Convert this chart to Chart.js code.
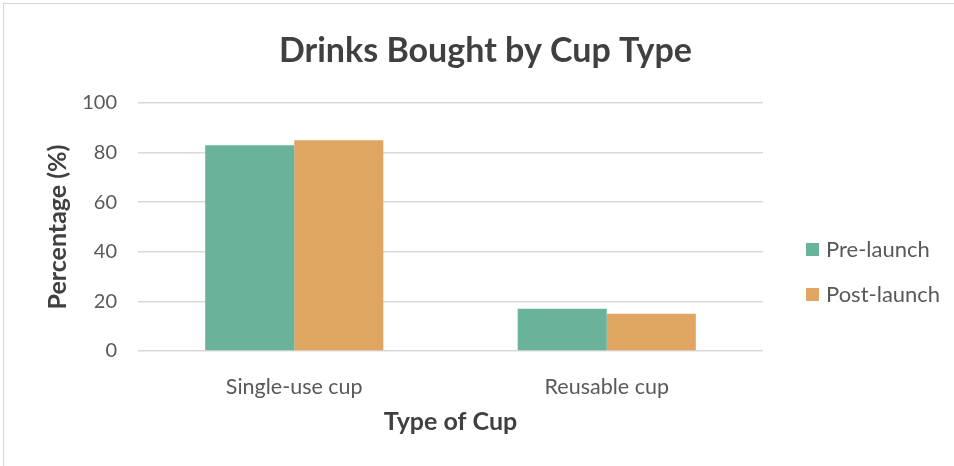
<!DOCTYPE html>
<html>
<head>
<meta charset="utf-8">
<script src="https://cdn.jsdelivr.net/npm/chart.js@4.4.1/dist/chart.umd.min.js"></script>
<style>
  body { margin: 0; background: #fff; }
  #wrap { position: relative; width: 954px; height: 466px; overflow: hidden; }
  #frame { position: absolute; left: 3px; top: 3px; width: 960px; height: 470px;
           border-left: 1px solid #d6d6d6; border-top: 1px solid #d6d6d6; pointer-events: none; }
</style>
</head>
<body>
<div id="wrap">
  <canvas id="grafica" width="954" height="466"></canvas>
  <div id="frame"></div>
</div>
<script>
// datos del gráfico
const categorias = ["Single-use cup", "Reusable cup"];
const preLaunch = [83, 17];
const postLaunch = [85, 15];
const nombresSeries = ["Pre-launch", "Post-launch"];
const colores = ["#69b39b", "#e0a560"];

const fuente = "Lato, 'Open Sans', sans-serif";
const gris = "#595959";

// titulo y leyenda dibujados a mano para ubicarlos como en el original
const extras = {
  id: "extras",
  afterDraw(chart) {
    const ctx = chart.ctx;
    ctx.save();
    ctx.fillStyle = "#404040";
    ctx.font = "bold 34px " + fuente;
    ctx.textAlign = "center";
    ctx.textBaseline = "alphabetic";
    ctx.fillText("Drinks Bought by Cup Type", 485.5, 62);

    ctx.font = "22px " + fuente;
    ctx.textAlign = "left";
    chart.data.datasets.forEach((ds, i) => {
      const base = 257 + i * 45;
      ctx.fillStyle = ds.backgroundColor;
      ctx.fillRect(806, base - 14, 13, 13);
      ctx.fillStyle = gris;
      ctx.fillText(ds.label, 826, base);
    });
    ctx.restore();
  }
};

new Chart(document.querySelector("#grafica"), {
  type: "bar",
  data: {
    labels: categorias,
    datasets: [
      { label: nombresSeries[0], data: preLaunch, backgroundColor: colores[0] },
      { label: nombresSeries[1], data: postLaunch, backgroundColor: colores[1] },
    ]
  },
  options: {
    responsive: false,
    animation: false,
    categoryPercentage: 0.57,
    barPercentage: 1,
    layout: { padding: { left: 43, right: 191, top: 103, bottom: 0 } },
    plugins: {
      legend: { display: false },
      title: { display: false },
      tooltip: { enabled: false },
    },
    scales: {
      x: {
        grid: { display: false },
        border: { display: false },
        ticks: { padding: 15, color: gris, font: { family: fuente, size: 21.5 } },
        title: {
          display: true, text: "Type of Cup", color: "#404040",
          font: { family: fuente, size: 25, weight: "bold" },
          padding: { top: 0, bottom: 29 }
        },
        afterFit(s) { s.height = 115; }
      },
      y: {
        min: 0, max: 100,
        ticks: { stepSize: 20, padding: 21, color: gris, font: { family: fuente, size: 20 } },
        grid: { color: "#d9d9d9", lineWidth: 1.5, drawTicks: false },
        border: { display: false },
        title: {
          display: true, text: "Percentage (%)", color: "#404040",
          font: { family: fuente, size: 25, weight: "bold" },
          padding: { top: 0, bottom: 0 }
        },
        afterFit(s) { s.width = 95; }
      }
    }
  },
  plugins: [extras]
});
</script>
</body>
</html>
